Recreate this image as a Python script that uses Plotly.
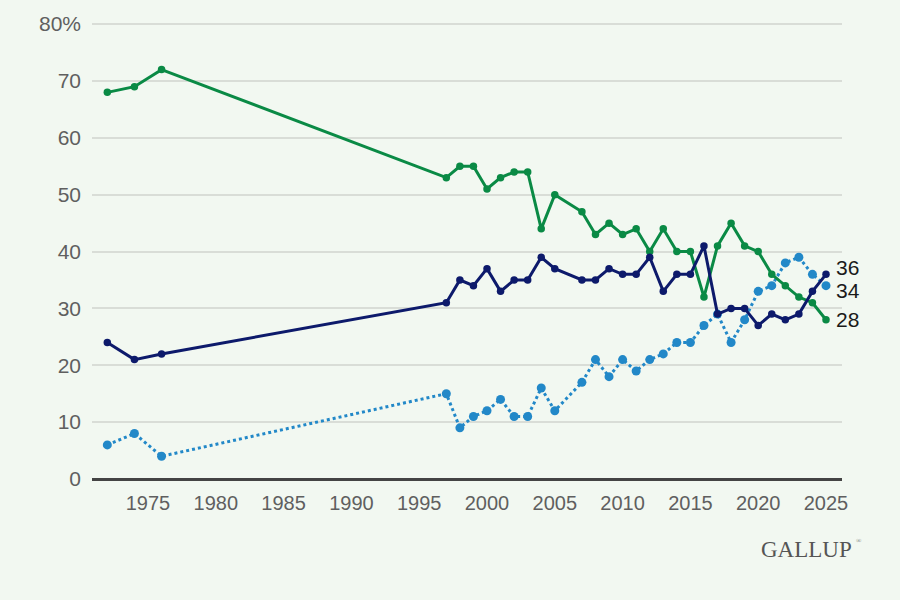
import plotly.graph_objects as go

years = [1972, 1974, 1976, 1997, 1998, 1999, 2000, 2001, 2002, 2003, 2004, 2005,
         2007, 2008, 2009, 2010, 2011, 2012, 2013, 2014, 2015, 2016, 2017, 2018,
         2019, 2020, 2021, 2022, 2023, 2024, 2025]

great_fair = [68, 69, 72, 53, 55, 55, 51, 53, 54, 54, 44, 50,
              47, 43, 45, 43, 44, 40, 44, 40, 40, 32, 41, 45,
              41, 40, 36, 34, 32, 31, 28]

not_very_much = [24, 21, 22, 31, 35, 34, 37, 33, 35, 35, 39, 37,
                 35, 35, 37, 36, 36, 39, 33, 36, 36, 41, 29, 30,
                 30, 27, 29, 28, 29, 33, 36]

none_at_all = [6, 8, 4, 15, 9, 11, 12, 14, 11, 11, 16, 12,
               17, 21, 18, 21, 19, 21, 22, 24, 24, 27, 29, 24,
               28, 33, 34, 38, 39, 36, 34]

y_ticks = [0, 10, 20, 30, 40, 50, 60, 70, 80]
y_tick_labels = ["0", "10", "20", "30", "40", "50", "60", "70", "80%"]
x_ticks = [1975, 1980, 1985, 1990, 1995, 2000, 2005, 2010, 2015, 2020, 2025]

GREEN = "#0a8a45"
NAVY = "#0d1a6b"
LIGHT = "#2288c8"
SANS = "Liberation Sans, Arial, sans-serif"

fig = go.Figure()

fig.add_trace(go.Scatter(
    x=years, y=none_at_all, mode="lines+markers",
    line=dict(color=LIGHT, width=3, dash="dot"),
    marker=dict(color=LIGHT, size=9),
    name="None at all", cliponaxis=False))

fig.add_trace(go.Scatter(
    x=years, y=great_fair, mode="lines+markers",
    line=dict(color=GREEN, width=3),
    marker=dict(color=GREEN, size=7.5),
    name="Great deal/Fair amount", cliponaxis=False))

fig.add_trace(go.Scatter(
    x=years, y=not_very_much, mode="lines+markers",
    line=dict(color=NAVY, width=3),
    marker=dict(color=NAVY, size=7.5),
    name="Not very much", cliponaxis=False))

end_labels = [
    (not_very_much[-1], 7),
    (none_at_all[-1], -5),
    (great_fair[-1], 0),
]
for val, ys in end_labels:
    fig.add_annotation(x=years[-1], y=val, text=str(val), showarrow=False,
                       xanchor="left", yanchor="middle", xshift=8, yshift=ys,
                       font=dict(family=SANS, size=21, color="#1a1a1a"))

fig.add_annotation(xref="paper", yref="paper", x=1.016, y=-0.155,
                   text="GALLUP", showarrow=False, xanchor="right",
                   yanchor="middle",
                   font=dict(family="Liberation Serif, DejaVu Serif, serif",
                             size=23, color="#555555"))
fig.add_annotation(xref="paper", yref="paper", x=1.016, y=-0.137,
                   text="®", showarrow=False, xanchor="left",
                   yanchor="middle",
                   font=dict(family="Liberation Serif, DejaVu Serif, serif",
                             size=7, color="#777777"))

fig.update_layout(
    width=900, height=600,
    margin=dict(l=92, r=58, t=20, b=121),
    paper_bgcolor="#f2f8f1", plot_bgcolor="#f2f8f1",
    showlegend=False,
    font=dict(family=SANS, color="#666666"),
    xaxis=dict(range=[1970.87, 2026.18], tickmode="array", tickvals=x_ticks,
               showgrid=False, zeroline=False, showline=False, ticks="",
               ticklabelstandoff=10,
               tickfont=dict(size=20, color="#5f5f5f")),
    yaxis=dict(range=[0, 80.2], tickmode="array", tickvals=y_ticks,
               ticktext=y_tick_labels, showgrid=True, gridcolor="#d9ddd7",
               gridwidth=1.5, zeroline=True, zerolinecolor="#444444",
               zerolinewidth=2.5, showline=False, ticks="", ticklabelstandoff=10,
               tickfont=dict(size=21, color="#5f5f5f")),
)

fig.write_html("out.html", config={"displayModeBar": False},
               post_script="document.body.style.margin='0';document.body.style.background='#f2f8f1';")
